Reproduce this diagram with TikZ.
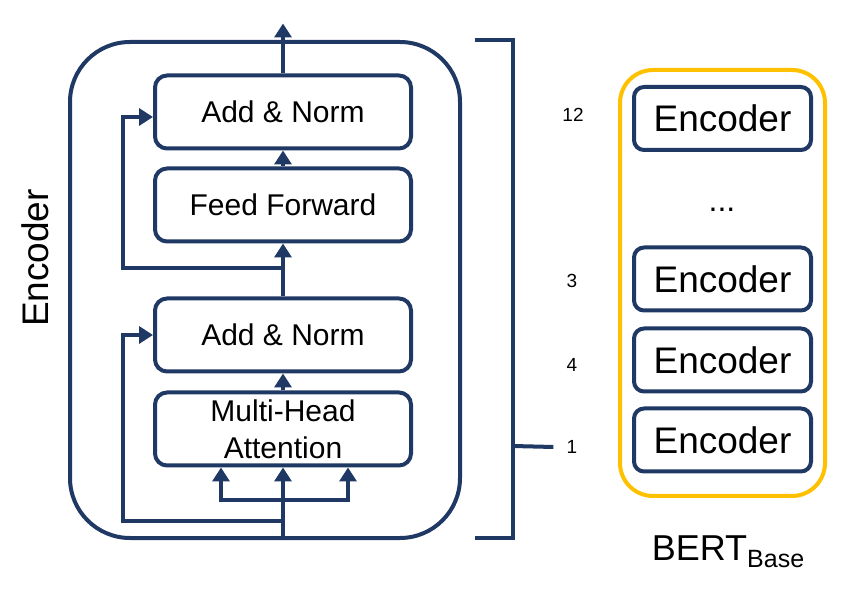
\documentclass[tikz,border=0pt]{standalone}
\usepackage{fontspec}
\setmainfont{Liberation Sans}
\usetikzlibrary{arrows.meta, positioning}
\definecolor{navy}{HTML}{203864}
\definecolor{gold}{HTML}{FFC000}

\begin{document}
\begin{tikzpicture}[x=1pt, y=-1pt, line width=4pt, >={Triangle[length=14pt, width=17pt]},
    block/.style={draw=navy, rounded corners=12pt, minimum width=256pt, minimum height=73pt, inner sep=0pt, align=center, font=\fontsize{30}{37}\selectfont},
    encblock/.style={draw=navy, rounded corners=10pt, minimum width=177pt, minimum height=63pt, inner sep=0pt, font=\fontsize{37}{44}\selectfont},
    num/.style={font=\fontsize{19}{23}\selectfont},
    conn/.style={->, draw=navy}]
    \useasboundingbox (0,0) rectangle (860,593);

    % Bloque encoder
    \node [draw=navy, rounded corners=60pt, minimum width=390pt, minimum height=496pt] (encbox) at (265,290) {};
    \node [block] (mha) at (283,429) {Multi-Head\\Attention};
    \node [block, above=17pt of mha] (addnormA) {Add \& Norm};
    \node [block, above=53pt of addnormA] (ff) {Feed Forward};
    \node [block, above=16pt of ff] (addnormB) {Add \& Norm};
    \node [rotate=90, font=\fontsize{37}{44}\selectfont] (enclbl) at (35,258) {Encoder};

    % Puntos auxiliares
    \coordinate [above=50pt of addnormB] (out);
    \coordinate [below=33pt of mha] (split);
    \coordinate [below=54pt of mha] (resA);
    \coordinate [below=25pt of ff] (resB);

    % Flechas dentro del encoder
    \draw[conn] (mha |- encbox.south) -- (mha.south);
    \draw[conn] (split) -| ([xshift=-62pt]mha.south);
    \draw[conn] (split) -| ([xshift=65pt]mha.south);
    \draw[conn] (mha) -- (addnormA);
    \draw[conn] (addnormA) -- (ff);
    \draw[conn] (ff) -- (addnormB);
    \draw[conn] (addnormB.north) -- (out);
    \draw[conn] (resA) -- ++(-160,0) |- (addnormA.west);
    \draw[conn] (resB) -- ++(-160,0) |- ([yshift=-5pt]addnormB.west);

    % BERT base
    \node [draw=gold, rounded corners=33pt, minimum width=205pt, minimum height=426pt] (bert) at (722.5,283) {};
    \node [encblock] (encA) at (722.5,440) {Encoder};
    \node [encblock, above=13pt of encA] (encB) {Encoder};
    \node [encblock, above=14pt of encB] (encC) {Encoder};
    \node [encblock] (encL) at (722.5,118.5) {Encoder};
    \node [anchor=base, font=\fontsize{32}{38}\selectfont] (dots) at (722,212) {...};
    \node [anchor=base, font=\fontsize{36}{43}\selectfont] (bertlbl) at (728,560) {BERT\raisebox{-7pt}{\fontsize{25}{30}\selectfont Base}};

    % Numeros y llave
    \node [num] (n12) at (573,115) {12};
    \node [num] (n3) at (572,281) {3};
    \node [num] (n4) at (572,365) {4};
    \node [num] (n1) at (572,447) {1};
    \draw[navy] (475,40) -- (513,40) -- (513,538) -- (475,538);
    \draw[navy] (513,446) -- ([xshift=-8pt]n1.west);

\end{tikzpicture}
\end{document}
